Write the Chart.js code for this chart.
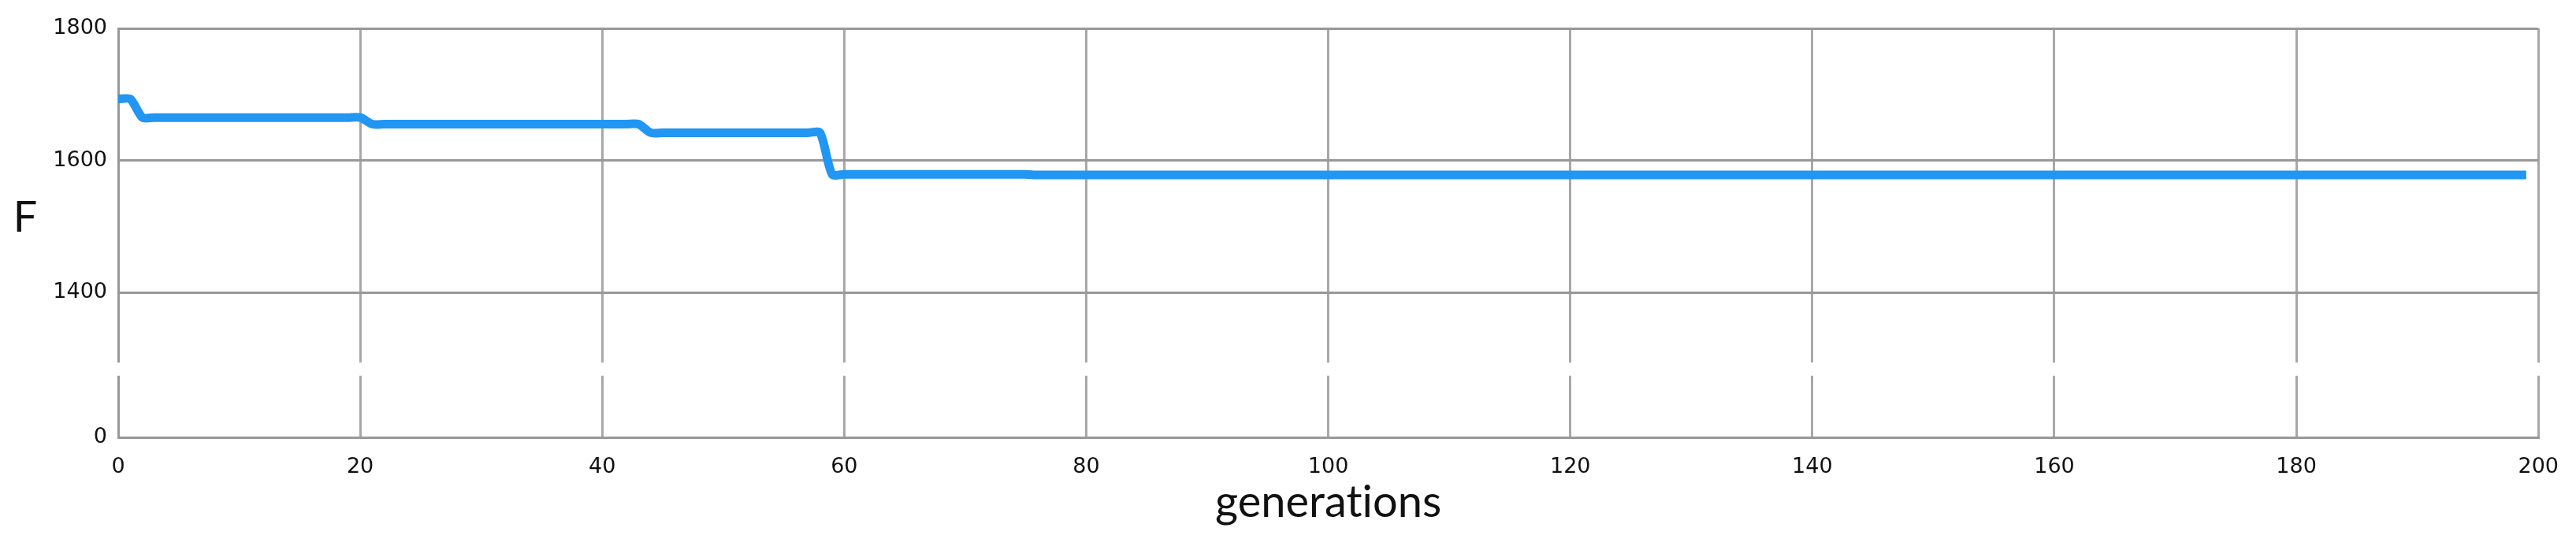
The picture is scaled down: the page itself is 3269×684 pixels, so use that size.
<!DOCTYPE html>
<html>
<head>
<meta charset="utf-8">
<script src="https://cdn.jsdelivr.net/npm/chart.js@4.4.1/dist/chart.umd.min.js"></script>
<style>
  html, body { margin: 0; padding: 0; background: #fff; }
  .chart-main { position: relative; width: 3269px; height: 684px; }
</style>
</head>
<body>
<div class="chart-main">
  <canvas id="myChart"></canvas>
</div>
<script>
// generations 0..199
const generations = Array.from({ length: 200 }, (_, i) => i);

// best F per generation
const fValues = [
  1693, 1693, 1665, 1665, 1665, 1665, 1665, 1665, 1665, 1665, 1665, 1665, 1665, 1665, 1665, 1665, 1665, 1665, 1665, 1665,
  1665, 1655, 1655, 1655, 1655, 1655, 1655, 1655, 1655, 1655, 1655, 1655, 1655, 1655, 1655, 1655, 1655, 1655, 1655, 1655,
  1655, 1655, 1655, 1655, 1642, 1642, 1642, 1642, 1642, 1642, 1642, 1642, 1642, 1642, 1642, 1642, 1642, 1642, 1642, 1579,
  1579, 1579, 1579, 1579, 1579, 1579, 1579, 1579, 1579, 1579, 1579, 1579, 1579, 1579, 1579, 1579, 1578, 1578, 1578, 1578,
  1578, 1578, 1578, 1578, 1578, 1578, 1578, 1578, 1578, 1578, 1578, 1578, 1578, 1578, 1578, 1578, 1578, 1578, 1578, 1578,
  1578, 1578, 1578, 1578, 1578, 1578, 1578, 1578, 1578, 1578, 1578, 1578, 1578, 1578, 1578, 1578, 1578, 1578, 1578, 1578,
  1578, 1578, 1578, 1578, 1578, 1578, 1578, 1578, 1578, 1578, 1578, 1578, 1578, 1578, 1578, 1578, 1578, 1578, 1578, 1578,
  1578, 1578, 1578, 1578, 1578, 1578, 1578, 1578, 1578, 1578, 1578, 1578, 1578, 1578, 1578, 1578, 1578, 1578, 1578, 1578,
  1578, 1578, 1578, 1578, 1578, 1578, 1578, 1578, 1578, 1578, 1578, 1578, 1578, 1578, 1578, 1578, 1578, 1578, 1578, 1578,
  1578, 1578, 1578, 1578, 1578, 1578, 1578, 1578, 1578, 1578, 1578, 1578, 1578, 1578, 1578, 1578, 1578, 1578, 1578, 1578,
];

const yTicks = [0, 1400, 1600, 1800];
const xTicks = [0, 20, 40, 60, 80, 100, 120, 140, 160, 180, 200];

// y axis is broken: [0, breakLow] sits at the bottom, [breakHigh, max] fills the rest
const breakLow = 93;
const breakHigh = 1294;
const lowFrac = 0.1507;
const highFrac = 0.1828;

class BrokenScale extends Chart.LinearScale {
  static id = "broken";
  static defaults = {};

  valueToDecimal(v) {
    if (v <= breakLow) return (v / breakLow) * lowFrac;
    if (v >= breakHigh) return highFrac + ((v - breakHigh) / (this.max - breakHigh)) * (1 - highFrac);
    return lowFrac + ((v - breakLow) / (breakHigh - breakLow)) * (highFrac - lowFrac);
  }

  getPixelForValue(value) {
    if (value === null || value === undefined) return NaN;
    return this.getPixelForDecimal(this.valueToDecimal(value));
  }

  getValueForPixel(pixel) {
    const d = this.getDecimalForPixel(pixel);
    if (d <= lowFrac) return (d / lowFrac) * breakLow;
    if (d >= highFrac) return breakHigh + ((d - highFrac) / (1 - highFrac)) * (this.max - breakHigh);
    return breakLow + ((d - lowFrac) / (highFrac - lowFrac)) * (breakHigh - breakLow);
  }
}
Chart.register(BrokenScale);

// no ligatures ("ti") in the original labels
const plainText = {
  id: "plainText",
  beforeDraw(chart) {
    chart.ctx.textRendering = "optimizeSpeed";
  },
};

// white band over grid + axis where the y axis is cut
const axisBreak = {
  id: "axisBreak",
  beforeDatasetsDraw(chart) {
    const y = chart.scales.y;
    const { ctx, chartArea } = chart;
    const top = y.getPixelForDecimal(highFrac);
    const bottom = y.getPixelForDecimal(lowFrac);
    ctx.save();
    ctx.fillStyle = "#ffffff";
    ctx.fillRect(chartArea.left - 6, top, chartArea.right - chartArea.left + 12, bottom - top);
    ctx.restore();
  },
};

// the F label is upright in the original, so it is drawn here instead of as a rotated axis title
const uprightTitle = {
  id: "uprightTitle",
  afterDraw(chart, args, opts) {
    const { ctx } = chart;
    ctx.save();
    ctx.font = opts.font;
    ctx.fillStyle = opts.color;
    ctx.textAlign = "center";
    ctx.textBaseline = "middle";
    ctx.fillText(opts.text, opts.x, opts.y);
    ctx.restore();
  },
};

const tickFont = { family: "'DejaVu Sans', sans-serif", size: 27 };
const hGrid = "#989898";
const vGrid = "#a8a8a8";

const ctx = document.getElementById("myChart").getContext("2d");

new Chart(ctx, {
  type: "line",
  data: {
    datasets: [
      {
        label: "F",
        data: generations.map((g, i) => ({ x: g, y: fValues[i] })),
        borderColor: "#2196F3",
        backgroundColor: "#2196F3",
        borderWidth: 11,
        borderCapStyle: "butt",
        pointRadius: 0,
        tension: 0.25,
        fill: false,
      },
    ],
  },
  options: {
    responsive: true,
    maintainAspectRatio: false,
    animation: false,
    layout: { padding: { top: 36, right: 46, bottom: 0, left: 0 } },
    plugins: {
      legend: { display: false },
      tooltip: { enabled: false },
      uprightTitle: {
        text: "F",
        x: 32,
        y: 277,
        font: "54px Lato, sans-serif",
        color: "#111",
      },
    },
    scales: {
      x: {
        type: "linear",
        min: 0,
        max: 200,
        afterBuildTicks: (s) => {
          s.ticks = xTicks.map((v) => ({ value: v }));
        },
        afterFit: (s) => {
          s.height = 129;
        },
        grid: { color: vGrid, lineWidth: 3, drawTicks: false },
        border: { color: hGrid, width: 3 },
        ticks: {
          font: tickFont,
          color: "#111",
          padding: 22,
          maxRotation: 0,
          callback: (v) => String(v),
        },
        title: {
          display: true,
          text: "generations",
          font: { family: "Lato, sans-serif", size: 56 },
          color: "#111",
          padding: { top: 0, bottom: 12 },
        },
      },
      y: {
        type: "broken",
        min: 0,
        max: 1800,
        afterBuildTicks: (s) => {
          s.ticks = yTicks.map((v) => ({ value: v }));
        },
        afterFit: (s) => {
          s.width = 150;
        },
        grid: { color: hGrid, lineWidth: 3, drawTicks: false },
        border: { color: hGrid, width: 3 },
        ticks: { font: tickFont, color: "#111", padding: 14, callback: (v) => String(v) },
      },
    },
  },
  plugins: [plainText, axisBreak, uprightTitle],
});
</script>
</body>
</html>
